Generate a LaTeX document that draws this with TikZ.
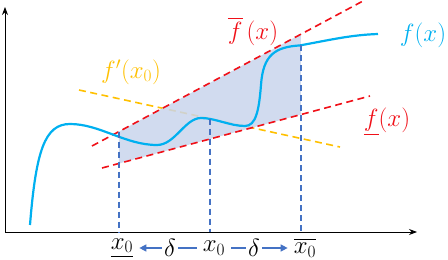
\documentclass[tikz,border=0pt]{standalone}
\usepackage{amsmath}
\usetikzlibrary{arrows.meta,calc,positioning}
\definecolor{Cyan}{HTML}{00B0F0}
\definecolor{Red}{HTML}{F01018}
\definecolor{Gold}{HTML}{FFC000}
\definecolor{Blue}{HTML}{4472C4}
\definecolor{BlueLight}{HTML}{C9D5EC}
\tikzset{axis/.style={-{Stealth[length=8pt,width=6pt]},line width=.9pt},bound/.style={Red,line width=1.6pt,dash pattern=on 7pt off 4.5pt},tangent/.style={Gold,line width=1.6pt,dash pattern=on 7pt off 4.5pt},guide/.style={Blue,line width=1.6pt,dash pattern=on 6pt off 4pt},curve/.style={Cyan,line width=2.2pt},lbl/.style={font=\fontsize{24}{28}\selectfont,inner sep=2pt},tick/.style={lbl,inner xsep=6pt},span/.style={-{Triangle[length=7pt,width=7pt]},Blue,line width=1.3pt}}

\begin{document}
\begin{tikzpicture}[x=1pt,y=1pt]
  \useasboundingbox (0,0) rectangle (448,260);
  % axes
  \coordinate (O) at (5,28);
  \draw[axis] (O) -- (5,253);
  \draw[axis] (O) -- (417,28);
  % bounding lines and tangent
  \coordinate (ua) at (92,114); \coordinate (ub) at (363,259);
  \coordinate (la) at (102,92); \coordinate (lb) at (370,164);
  \coordinate (ta) at (79,170); \coordinate (tb) at (340,113);
  \coordinate (uL) at ($(ua)!{27/271}!(ub)$);
  \coordinate (uR) at ($(ua)!{209/271}!(ub)$);
  \coordinate (lL) at ($(la)!{17/268}!(lb)$);
  \coordinate (lR) at ($(la)!{199/268}!(lb)$);
  \coordinate (tC) at ($(ta)!{131/261}!(tb)$);
  \coordinate (cR) at (301,214.6);
  \draw[tangent] (ta) -- (tb);
  \fill[BlueLight,opacity=.85] (uL) -- (uR) -- (lR) -- (lL) -- cycle;
  \draw[bound] (ua) -- (ub);
  \draw[bound] (la) -- (lb);
  % function
  \draw[curve] (30,35) .. controls (36,110) and (45,136) .. (70,136)
    .. controls (100,136) and (125,115) .. (157,115)
    .. controls (175,115) and (185,142) .. (201,142)
    .. controls (215,142) and (230,134) .. (245,134)
    .. controls (256,134) and (259,150) .. (261,175)
    .. controls (263,205) and (275,213) .. (300,214.6)
    .. controls (330,220) and (350,225) .. (378,226);
  % verticals
  \draw[guide] (uL) -- (uL|-O);
  \draw[guide] (tC) -- (tC|-O);
  \draw[guide] (cR) -- (cR|-O);
  % labels on the axis
  \node[tick] (xlo) at (122,12) {$\underline{x_0}$};
  \node[lbl] (dl) at (170,12) {$\delta$};
  \node[tick] (xc) at (214,12) {$x_0$};
  \node[lbl] (dr) at (254,12) {$\delta$};
  \node[tick] (xhi) at (305,12) {$\overline{x_0}$};
  \draw[span] (dl) -- (xlo);
  \draw[Blue,line width=1.3pt] (dl) -- (xc);
  \draw[Blue,line width=1.3pt] (xc) -- (dr);
  \draw[span] (dr) -- (xhi);
  % function labels
  \node[lbl,Red] (fup) at (253,229) {$\overline{f}\,(x)$};
  \node[lbl,Cyan] (fcur) at (423,225) {$f(x)$};
  \node[lbl,Gold] (fdiff) at (131,188) {$f'(x_0)$};
  \node[lbl,Red] (flow) at (387,138) {$\underline{f}(x)$};
\end{tikzpicture}
\end{document}
